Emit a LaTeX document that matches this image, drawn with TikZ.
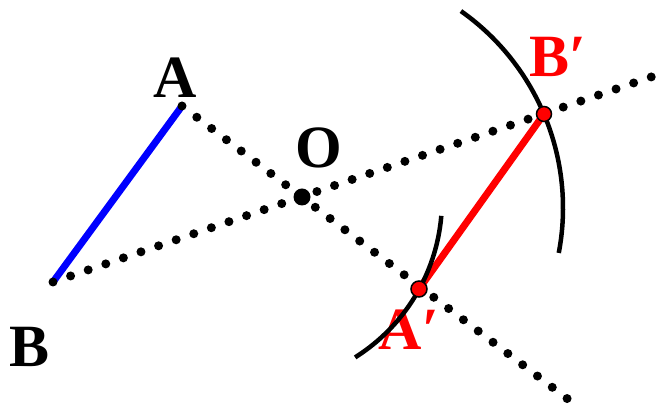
\documentclass[tikz,border=0pt]{standalone}
\usepackage{fontspec}
\setmainfont{Liberation Serif}
\usetikzlibrary{positioning}

\begin{document}
\begin{tikzpicture}[x=1pt, y=1pt,
    seg/.style={line width=7pt},
    dotline/.style={line width=9pt, line cap=round, dash pattern=on 0pt off 18.6pt},
    arcline/.style={line width=4.5pt},
    lbl/.style={font=\fontsize{60}{62}\selectfont\bfseries, inner sep=0pt},
    ptmark/.style={circle, draw, line width=1.5pt, fill=red, minimum size=16pt, inner sep=0pt}]
  \useasboundingbox (0,0) rectangle (659,406);
  % points
  \coordinate (A)  at (182,300);
  \coordinate (B)  at (53,124);
  \coordinate (O)  at (302,209);
  \coordinate (Ap) at (419,117);
  \coordinate (Bp) at (544,292);
  \coordinate (endA) at (569,6);
  \coordinate (endB) at (654,330);
  \coordinate (bigc) at (322,198);
  \coordinate (smallc) at (256,206);
  % labels
  \node[lbl] (labA)  at (175,328) {A};
  \node[lbl] (labO)  at (319,258) {O};
  \node[lbl] (labB)  at (30,59)   {B};
  \node[lbl, red] (labBp) at (558,349) {B′};
  \node[lbl, red] (labAp) at (409,76)  {A′};
  % segments and rays
  \draw[seg, blue] (A) -- (B);
  \draw[seg, red] (Ap) -- (Bp);
  \draw[dotline] (A) -- (endA);
  \draw[dotline] (B) -- (endB);
  % compass arcs
  \draw[arcline] (bigc) ++(54.8:241pt) arc[start angle=54.8, end angle=-10.75, radius=241pt];
  \draw[arcline] (smallc) ++(-4.9:186pt) arc[start angle=-4.9, end angle=-57.8, radius=186pt];
  % dots
  \fill (O) circle (8.5pt);
  \node[ptmark] (markA) at (Ap) {};
  \node[ptmark, minimum size=15pt] (markB) at (Bp) {};
\end{tikzpicture}
\end{document}
